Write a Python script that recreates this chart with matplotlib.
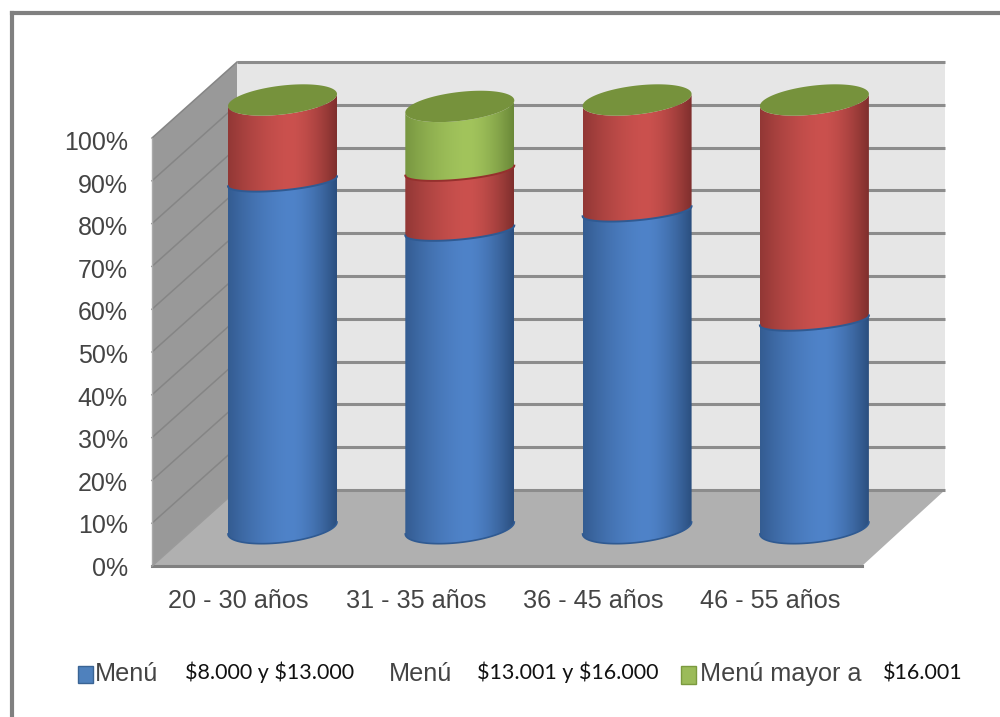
import numpy as np
import matplotlib
matplotlib.use("Agg")
import matplotlib.pyplot as plt
from matplotlib.patches import Polygon, Rectangle, PathPatch
from matplotlib.path import Path
from matplotlib.colors import to_rgb

plt.rcParams["font.family"] = ["Liberation Sans", "DejaVu Sans"]

categories = ["20 - 30 años", "31 - 35 años", "36 - 45 años", "46 - 55 años"]
menu_low = [81, 69.5, 74, 48.5]
menu_mid = [19, 14, 26, 51.5]
menu_high = [0, 15, 0, 0]
y_ticks = [0, 10, 20, 30, 40, 50, 60, 70, 80, 90, 100]

W, H = 1000, 717
PX_PER_PCT = 4.28
BAR_SPACING = 177.3
BAR_HALF = 54.5
x0_px, y0_px = 282.5, 528

fig = plt.figure(figsize=(W / 100, H / 100), dpi=100)
# x in category units, y in percent; the limits put the bars in their spot on the page
ax = fig.add_axes([0, 0, 1, 1])
ax.set_xlim(-x0_px / BAR_SPACING, (W - x0_px) / BAR_SPACING)
ax.set_ylim((y0_px - H) / PX_PER_PCT, y0_px / PX_PER_PCT)
ax.axis("off")

dx = 1 / BAR_SPACING
dy = 1 / PX_PER_PCT
half = BAR_HALF * dx

# shape of the ellipses: (half height, tilt), the end caps are rounder than the joints
CAP = (14.5 * dy, 6 * dy)
JOINT = (9 * dy, 5 * dy)

# depth offsets from the bar plane to the front and back of the box
FRONT = (-130.5 * dx, -38 * dy)
BACK = (-45.5 * dx, 38 * dy)
FRONT_RIGHT = FRONT[0] + 710 * dx
BACK_RIGHT = BACK[0] + 708 * dx


def px(v):
    return (v - x0_px) * dx


def py(v):
    return (y0_px - v) * dy


def ellipse_xy(cx, cy, t, shape):
    b, s = shape
    return cx + half * np.cos(t), cy + s * np.cos(t) + b * np.sin(t)


def draw_box():
    fl = FRONT
    bl = BACK
    top = 100
    # back wall, side wall and floor
    ax.add_patch(Rectangle(bl, BACK_RIGHT - bl[0], top, fc="#e6e6e6", ec="none", zorder=1))
    ax.add_patch(Polygon([fl, bl, (bl[0], bl[1] + top), (fl[0], fl[1] + top)], fc="#999999", ec="none", zorder=1))
    ax.add_patch(Polygon([fl, bl, (BACK_RIGHT, bl[1]), (FRONT_RIGHT, fl[1])], fc="#b0b0b0", ec="none", zorder=1))
    for tick in y_ticks:
        ax.plot([bl[0], BACK_RIGHT], [bl[1] + tick] * 2, color="#8c8c8c", lw=2.2, zorder=2, solid_capstyle="butt")
        if tick > 0:
            ax.plot([fl[0], bl[0]], [fl[1] + tick, bl[1] + tick], color="#858585", lw=1.1, zorder=2)
        ax.text(fl[0] - 24 * dx, fl[1] + tick * 0.995 - 3 * dy, "{}%".format(tick), ha="right", va="center",
                fontsize=18, color="#444444", zorder=6)
    ax.plot([fl[0], fl[0]], [fl[1], fl[1] + top], color="#aaaaaa", lw=1, zorder=2)
    ax.plot([fl[0], FRONT_RIGHT], [fl[1], fl[1]], color="#808080", lw=2.2, zorder=2)
    ax.plot([fl[0], bl[0]], [fl[1], bl[1]], color="#9a9a9a", lw=1.2, zorder=2)


def gradient_colors(light, dark, n=120):
    # shading across the cylinder, brightest a little right of centre
    u = np.linspace(0, 1, n)
    w = np.where(u < 0.58, (0.58 - u) / 0.58, (u - 0.58) / 0.42) ** 1.6
    w = np.where(u < 0.58, w * 0.75, w)
    light, dark = np.array(to_rgb(light)), np.array(to_rgb(dark))
    return (light[None, :] * (1 - w[:, None]) + dark[None, :] * w[:, None])[None, :, :]


def draw_segment(cx, y_start, y_end, low_shape, high_shape, light, dark, z):
    t = np.linspace(0, np.pi, 60)
    xb, yb = ellipse_xy(cx, y_start, -t, low_shape)
    xt, yt = ellipse_xy(cx, y_end, -t[::-1], high_shape)
    # front arc of the lower edge, back along the front arc of the upper one
    verts = np.column_stack([np.r_[xb, xt], np.r_[yb, yt]])
    path = Path(np.vstack([verts, verts[0]]), closed=True)
    im = ax.imshow(gradient_colors(light, dark), extent=(cx - half, cx + half, y_start - 20, y_end + 20),
                   aspect="auto", zorder=z, interpolation="bilinear")
    patch = PathPatch(path, transform=ax.transData, fc="none", ec="none")
    ax.add_patch(patch)
    im.set_clip_path(patch)


def draw_bars():
    blue = ("#4f83c9", "#2b4f7f", "#2f5a92")
    red = ("#cb514e", "#7f2f2d", "#95302d")
    green = ("#a2c45c", "#6a8838", "#6d8a38")
    for i in range(len(categories)):
        stack = [(v, c) for v, c in zip((menu_low[i], menu_mid[i], menu_high[i]), (blue, red, green)) if v > 0]
        y = 0
        for j, (value, (light, dark, edge)) in enumerate(stack):
            last = j == len(stack) - 1
            low_shape = CAP if j == 0 else JOINT
            high_shape = CAP if last else JOINT
            draw_segment(i, y, y + value, low_shape, high_shape, light, dark, 3 + y / 100)
            if j == 0:
                xe, ye = ellipse_xy(i, y, -np.linspace(0, np.pi, 60), low_shape)
                ax.plot(xe, ye, color=edge, lw=1.2, zorder=4.5)
            y += value
            if not last:
                xe, ye = ellipse_xy(i, y, -np.linspace(0, np.pi, 60), high_shape)
                ax.plot(xe, ye, color=edge, lw=1.4, zorder=4.5)
        # olive lid on top of each stack
        xe, ye = ellipse_xy(i, y, np.linspace(0, 2 * np.pi, 120), CAP)
        ax.fill(xe, ye, color="#76923c", ec="none", zorder=5)


def draw_labels():
    for i, label in enumerate(categories):
        ax.text(i - 44 * dx, py(601), label, ha="center", va="center", fontsize=18.2, color="#444444", zorder=6)


def draw_legend():
    ax.add_patch(Rectangle((px(78), py(683)), 15 * dx, 17 * dy, fc="#4f81bd", ec="#3a6494", lw=1, zorder=6))
    ax.add_patch(Rectangle((px(681), py(684)), 15 * dx, 18 * dy, fc="#9bbb59", ec="#7b9a3f", lw=1, zorder=6))
    grey = dict(fontsize=18.2, color="#444444", va="baseline", ha="left", zorder=6)
    black = dict(fontsize=15.5, color="#111111", va="baseline", ha="left", zorder=6, family=["Lato", "DejaVu Sans"])
    grey_y = py(681)
    black_y = py(679)
    ax.text(px(95), grey_y, "Menú", **grey)
    ax.text(px(185), black_y, r"\$8.000 y \$13.000", **black)
    ax.text(px(389), grey_y, "Menú", **grey)
    ax.text(px(477), black_y, r"\$13.001 y \$16.000", **black)
    ax.text(px(700), grey_y, "Menú mayor a", **grey)
    ax.text(px(883), black_y, r"\$16.001", **black)


draw_box()
draw_bars()
draw_labels()
draw_legend()

# page frame
fig.add_artist(plt.Line2D([12 / W, 12 / W], [0, 1 - 13 / H], color="#808080", lw=3))
fig.add_artist(plt.Line2D([12 / W, 1], [1 - 13 / H, 1 - 13 / H], color="#808080", lw=3))

fig.savefig("out.png", dpi=100, facecolor="white")
